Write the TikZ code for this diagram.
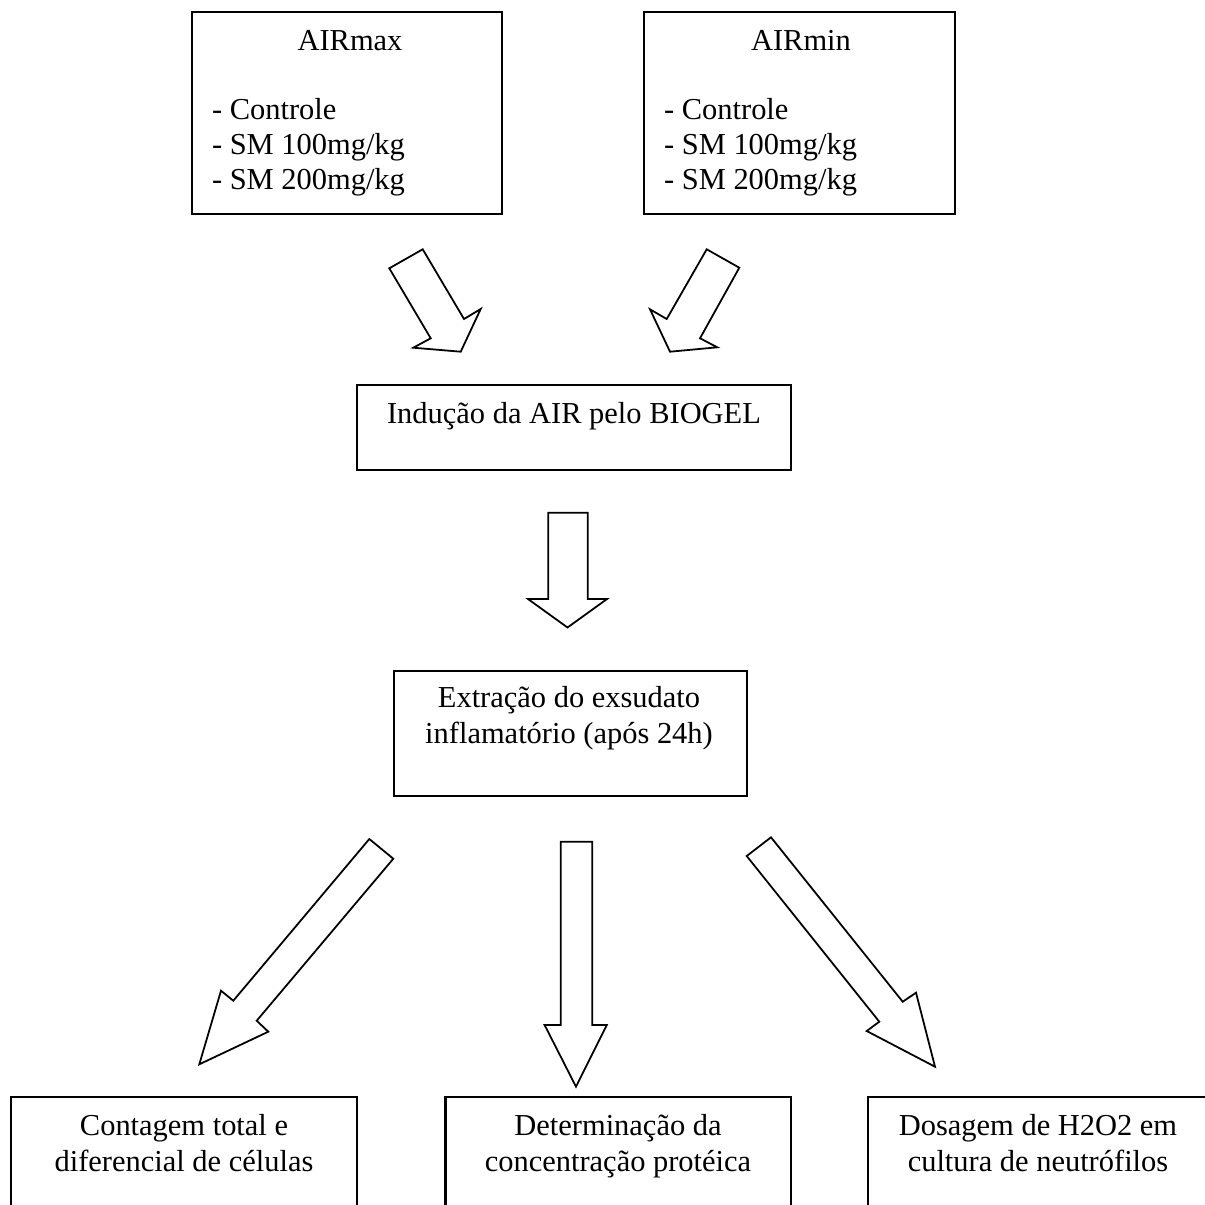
\documentclass[tikz,border=0pt]{standalone}
\usepackage{fontspec}
\setmainfont{Liberation Serif}
\usetikzlibrary{fit}

\tikzset{
    flowbox/.style={draw, line width=0.8pt, inner sep=0pt},
    flowtext/.style={font=\fontsize{12}{13.8}\selectfont, inner sep=0pt, align=center, anchor=base},
    listtext/.style={font=\fontsize{12}{13.6}\selectfont, inner sep=0pt, align=left, anchor=base west},
    blockarrow/.style={draw, line width=0.7pt, line join=miter},
}

\begin{document}
\begin{tikzpicture}[x=0.394pt, y=-0.394pt]
        \clip (0,0) rectangle (1205,1204);
        \node[flowbox, fit={(192,12.3) (502,214.3)}] (max) {};
        \node[flowbox, fit={(644,12.3) (955,214.3)}] (min) {};
        \node[flowbox, fit={(357,385) (791,470)}] (ind) {};
        \node[flowbox, fit={(394,670.7) (747,796)}] (ext) {};
        \node[flowbox, fit={(11,1097) (357,1260)}] (cont) {};
        \node[flowbox, fit={(445.5,1097) (791,1260)}] (det) {};
        \node[flowbox, fit={(868,1097) (1208,1260)}] (dos) {};

        \node[flowtext] (maxtitle) at (350,50.5) {AIRmax};
        \node[listtext] (maxlist) at (211.5,189) {- Controle\\- SM 100mg/kg\\- SM 200mg/kg};
        \node[flowtext] (mintitle) at (801,50.5) {AIRmin};
        \node[listtext] (minlist) at (663.6,189) {- Controle\\- SM 100mg/kg\\- SM 200mg/kg};
        \node[flowtext] (indtext) at (574,423) {Indução da AIR pelo BIOGEL};
        \node[flowtext] (exttext) at (569,743) {Extração do exsudato\\inflamatório (após 24h)};
        \node[flowtext] (conttext) at (184,1171) {Contagem total e\\diferencial de células};
        \node[flowtext] (dettext) at (618,1171) {Determinação da\\concentração protéica};
        \node[flowtext] (dostext) at (1038,1171) {Dosagem de H2O2 em\\cultura de neutrófilos};

        \draw[blockarrow] (389.3,268.3) -- (430.7,338.3) -- (413.3,347.7) -- (460.7,351.7)
            -- (480.7,309) -- (464,319) -- (422.7,249.3) -- cycle;
        \draw[blockarrow] (706.7,249.3) -- (666.7,319) -- (650,309.3) -- (670,351.7)
            -- (717.3,347.3) -- (700,338.3) -- (739.3,267.7) -- cycle;
        \draw[blockarrow] (548.3,512.7) -- (548.3,599) -- (528,599) -- (567.5,627.5)
            -- (607,599) -- (587.7,599) -- (587.7,512.7) -- cycle;
        \draw[blockarrow] (369.3,839) -- (233.3,1000.7) -- (221,990.7) -- (199.3,1064.3)
            -- (268.3,1031.7) -- (256.7,1020.7) -- (393.3,858.7) -- cycle;
        \draw[blockarrow] (560.7,841.7) -- (560.7,1025) -- (544.6,1025) -- (576,1086.7)
            -- (606.8,1025) -- (592.2,1025) -- (592.2,841.7) -- cycle;
        \draw[blockarrow] (771,837.3) -- (902.7,1001.7) -- (916,992.7) -- (935,1066.7)
            -- (866.7,1031) -- (879.3,1021.7) -- (746.7,856) -- cycle;
    \end{tikzpicture}
\end{document}
